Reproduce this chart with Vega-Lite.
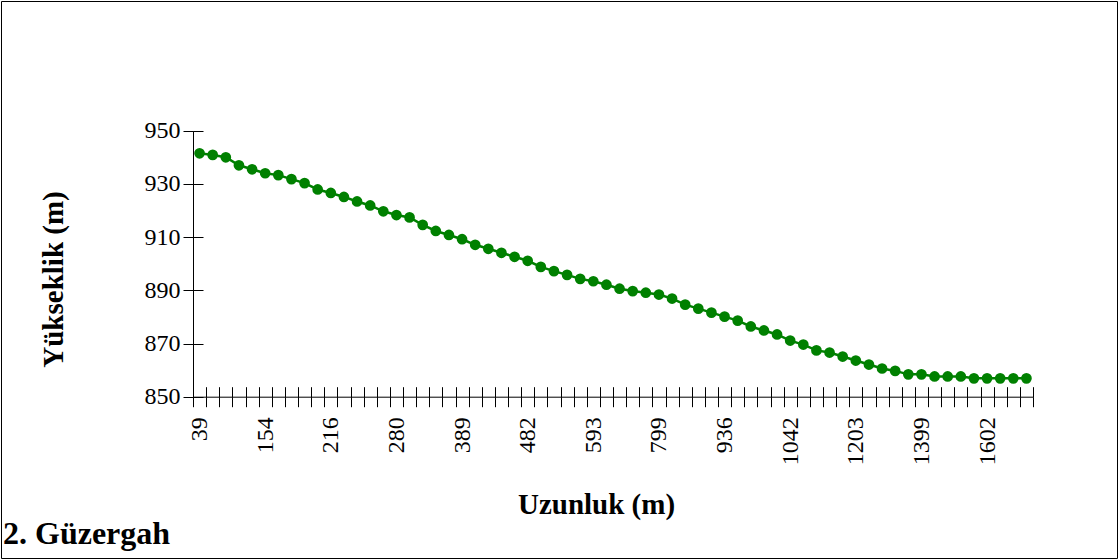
{
  "$schema": "https://vega.github.io/schema/vega-lite/v6.json",
  "width": 1116,
  "height": 557,
  "autosize": {"type": "none"},
  "padding": {"left": 1, "top": 1, "right": 3, "bottom": 2},
  "background": "white",
  "config": {
    "view": {"stroke": "black", "strokeWidth": 1},
    "font": "Liberation Serif",
    "axis": {
      "grid": false,
      "domainColor": "black",
      "tickColor": "black",
      "labelColor": "black",
      "titleColor": "black",
      "labelFont": "Liberation Serif",
      "titleFont": "Liberation Serif",
      "domainWidth": 1,
      "tickWidth": 1
    }
  },
  "title": {
    "text": "2. Güzergah",
    "orient": "bottom",
    "anchor": "start",
    "frame": "group",
    "font": "Liberation Serif",
    "fontSize": 32,
    "fontWeight": "bold",
    "color": "black",
    "baseline": "alphabetic",
    "offset": -14,
    "dx": 2
  },
  "data": {
    "values": [
      {"uzunluk": "39", "yukseklik": 941.5},
      {"uzunluk": "63", "yukseklik": 940.9},
      {"uzunluk": "88", "yukseklik": 940.0},
      {"uzunluk": "110", "yukseklik": 937.0},
      {"uzunluk": "132", "yukseklik": 935.5},
      {"uzunluk": "154", "yukseklik": 934.0},
      {"uzunluk": "166", "yukseklik": 933.3},
      {"uzunluk": "178", "yukseklik": 931.8},
      {"uzunluk": "191", "yukseklik": 930.3},
      {"uzunluk": "204", "yukseklik": 927.9},
      {"uzunluk": "216", "yukseklik": 926.6},
      {"uzunluk": "229", "yukseklik": 925.1},
      {"uzunluk": "242", "yukseklik": 923.4},
      {"uzunluk": "255", "yukseklik": 921.9},
      {"uzunluk": "268", "yukseklik": 919.7},
      {"uzunluk": "280", "yukseklik": 918.3},
      {"uzunluk": "302", "yukseklik": 917.4},
      {"uzunluk": "324", "yukseklik": 914.6},
      {"uzunluk": "346", "yukseklik": 912.3},
      {"uzunluk": "368", "yukseklik": 910.8},
      {"uzunluk": "389", "yukseklik": 909.2},
      {"uzunluk": "408", "yukseklik": 907.1},
      {"uzunluk": "426", "yukseklik": 905.6},
      {"uzunluk": "445", "yukseklik": 904.1},
      {"uzunluk": "463", "yukseklik": 902.6},
      {"uzunluk": "482", "yukseklik": 901.1},
      {"uzunluk": "504", "yukseklik": 898.8},
      {"uzunluk": "526", "yukseklik": 897.2},
      {"uzunluk": "549", "yukseklik": 895.8},
      {"uzunluk": "571", "yukseklik": 894.3},
      {"uzunluk": "593", "yukseklik": 893.4},
      {"uzunluk": "634", "yukseklik": 892.1},
      {"uzunluk": "675", "yukseklik": 890.6},
      {"uzunluk": "717", "yukseklik": 889.7},
      {"uzunluk": "758", "yukseklik": 889.1},
      {"uzunluk": "799", "yukseklik": 888.4},
      {"uzunluk": "826", "yukseklik": 886.9},
      {"uzunluk": "854", "yukseklik": 884.6},
      {"uzunluk": "881", "yukseklik": 883.1},
      {"uzunluk": "909", "yukseklik": 881.6},
      {"uzunluk": "936", "yukseklik": 880.1},
      {"uzunluk": "957", "yukseklik": 878.6},
      {"uzunluk": "978", "yukseklik": 876.4},
      {"uzunluk": "1000", "yukseklik": 874.9},
      {"uzunluk": "1021", "yukseklik": 873.4},
      {"uzunluk": "1042", "yukseklik": 871.1},
      {"uzunluk": "1074", "yukseklik": 869.6},
      {"uzunluk": "1106", "yukseklik": 867.4},
      {"uzunluk": "1139", "yukseklik": 866.6},
      {"uzunluk": "1171", "yukseklik": 865.1},
      {"uzunluk": "1203", "yukseklik": 863.6},
      {"uzunluk": "1242", "yukseklik": 862.1},
      {"uzunluk": "1281", "yukseklik": 860.6},
      {"uzunluk": "1321", "yukseklik": 859.7},
      {"uzunluk": "1360", "yukseklik": 858.4},
      {"uzunluk": "1399", "yukseklik": 858.4},
      {"uzunluk": "1440", "yukseklik": 857.6},
      {"uzunluk": "1480", "yukseklik": 857.6},
      {"uzunluk": "1521", "yukseklik": 857.6},
      {"uzunluk": "1561", "yukseklik": 856.9},
      {"uzunluk": "1602", "yukseklik": 856.9},
      {"uzunluk": "1643", "yukseklik": 856.9},
      {"uzunluk": "1684", "yukseklik": 856.9},
      {"uzunluk": "1725", "yukseklik": 856.9}
    ]
  },
  "layer": [
    {
      "mark": {"type": "line", "color": "#008000", "strokeWidth": 2.5},
      "encoding": {
        "x": {
          "field": "uzunluk",
          "type": "ordinal",
          "sort": null,
          "scale": {"type": "band", "range": [192, 1032], "paddingInner": 0, "paddingOuter": 0},
          "axis": {
            "orient": "bottom",
            "offset": -161.3,
            "domain": true,
            "ticks": true,
            "tickBand": "extent",
            "tickSize": 10,
            "labelAngle": -90,
            "labelAlign": "right",
            "labelBaseline": "middle",
            "labelFontSize": 24,
            "labelPadding": 10,
            "labelExpr": "indexof(['39','154','216','280','389','482','593','799','936','1042','1203','1399','1602'], datum.label) >= 0 ? datum.label : ''",
            "title": "Uzunluk (m)",
            "titleFontSize": 29,
            "titleFontWeight": "bold",
            "titleX": 595,
            "titleY": 116.3,
            "titleAlign": "center",
            "titleBaseline": "alphabetic"
          }
        },
        "y": {
          "field": "yukseklik",
          "type": "quantitative",
          "scale": {"domain": [850, 950], "range": [395.7, 129.7], "nice": false, "zero": false},
          "axis": {
            "orient": "left",
            "offset": -192,
            "values": [850, 870, 890, 910, 930, 950],
            "domain": true,
            "tickSize": 10,
            "labelFontSize": 24,
            "labelPadding": 3,
            "title": "Yükseklik (m)",
            "titleFontSize": 29,
            "titleFontWeight": "bold",
            "titleAngle": -90,
            "titleX": -140,
            "titleY": 278,
            "titleAlign": "center",
            "titleBaseline": "middle"
          }
        }
      }
    },
    {
      "mark": {"type": "point", "filled": true, "color": "#008000", "size": 115, "opacity": 1},
      "encoding": {
        "x": {
          "field": "uzunluk",
          "type": "ordinal",
          "sort": null,
          "axis": {
            "orient": "bottom",
            "offset": -161.3,
            "domain": false,
            "labels": false,
            "ticks": true,
            "tickBand": "extent",
            "tickSize": -10,
            "title": null
          }
        },
        "y": {
          "field": "yukseklik",
          "type": "quantitative",
          "axis": {
            "orient": "left",
            "offset": -192,
            "values": [850, 870, 890, 910, 930, 950],
            "domain": false,
            "labels": false,
            "tickSize": -10,
            "title": null
          }
        }
      }
    }
  ],
  "resolve": {"axis": {"x": "independent", "y": "independent"}}
}
